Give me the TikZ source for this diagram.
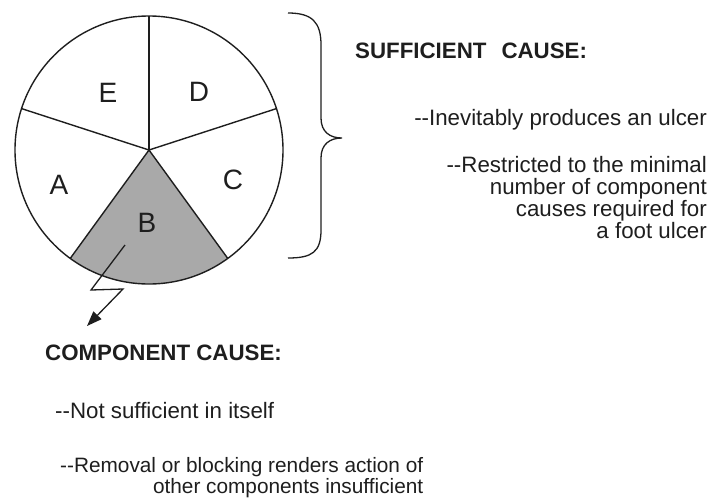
\documentclass[tikz,border=0pt]{standalone}
\usepackage{fontspec}
\setmainfont{Liberation Sans}
\usetikzlibrary{arrows.meta}
\definecolor{wedge}{HTML}{A9A9A9}
\definecolor{ink}{HTML}{1E1E1E}
\newcommand{\dd}{{-}{-}}
\tikzset{
  pieline/.style={draw=ink, line width=1.4pt},
  letter/.style={font=\fontsize{28}{28}\selectfont, text=ink, inner sep=0pt},
  head/.style={font=\fontsize{22.3}{22}\selectfont\bfseries, text=ink, inner sep=0pt},
  body/.style={font=\fontsize{22.3}{22.3}\selectfont, text=ink, inner sep=0pt},
  smallbody/.style={font=\fontsize{20.8}{20.8}\selectfont, text=ink, inner sep=0pt},
  bolt/.style={draw=ink, line width=1.3pt, -{Triangle[length=15pt,width=11pt]}},
}
\begin{document}
\begin{tikzpicture}[x=1pt,y=-1pt]
\useasboundingbox (0,0) rectangle (712,499);
\coordinate (O) at (149,150);
% shaded wedge B (y axis points down, so angles run clockwise)
\fill[wedge] (O) -- ++(54:134) arc[start angle=54, end angle=126, radius=134] -- cycle;
\draw[pieline] (O) circle[radius=134];
\foreach \a in {-90,-18,54,126,-162} \draw[pieline] (O) -- ++(\a:134);
% letters
\node[letter] (E) at (108,93) {E};
\node[letter] (D) at (199,92) {D};
\node[letter] (A) at (59,185) {A};
\node[letter] (C) at (233,180) {C};
\node[letter] (B) at (147,223) {B};
% brace
\draw[ink, line width=1.3pt]
  (288,13) .. controls (312,13) and (321,22) .. (321,45)
  -- (321,118) .. controls (321,132) and (330,138) .. (342,138)
  .. controls (330,138) and (321,144) .. (321,158)
  -- (321,230) .. controls (321,252) and (312,258) .. (288,258);
% sufficient cause text
\node[head, anchor=base west] (sufh) at (355,58) {SUFFICIENT\hspace{15pt}CAUSE:};
\node[body, anchor=base east] (suf1) at (707,125) {\dd Inevitably produces an ulcer};
\node[body, anchor=base east] (suf2) at (707,172) {\dd Restricted to the minimal};
\node[body, anchor=base east] (suf3) at (707,194) {number of component};
\node[body, anchor=base east] (suf4) at (707,216) {causes required for};
\node[body, anchor=base east] (suf5) at (707,238) {a foot ulcer};
% bolt arrow
\coordinate (z0) at (125,245);
\coordinate (z1) at (91,290);
\coordinate (z2) at (123,289);
\coordinate (z3) at (87,326);
\draw[bolt] (z0) -- (z1) -- (z2) -- (z3);
% component cause text
\node[head, anchor=base west] (comph) at (45,360) {COMPONENT CAUSE:};
\node[body, anchor=base west] (comp1) at (55,418) {\dd Not sufficient in itself};
\node[smallbody, anchor=base west] (comp2) at (60,472) {\dd Removal or blocking renders action of};
\node[smallbody, anchor=base east] (comp3) at (comp2.base east |- 0,493) {other components insufficient};
\end{tikzpicture}
\end{document}
